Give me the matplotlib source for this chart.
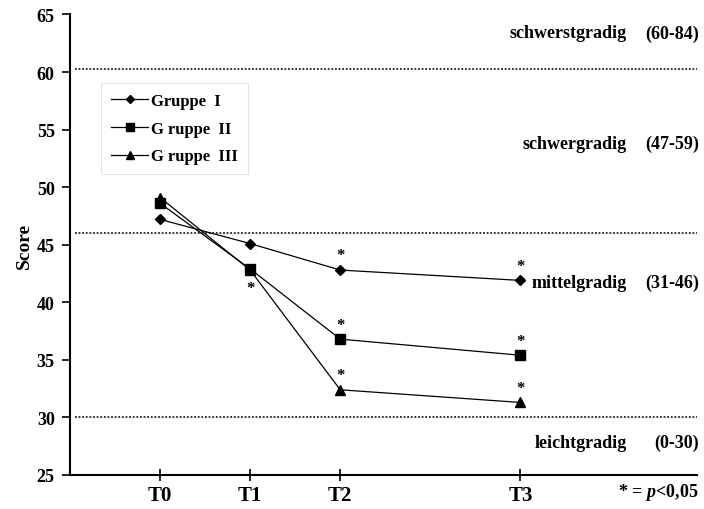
import numpy as np
import matplotlib.pyplot as plt

plt.rcParams['font.family'] = ['Liberation Serif', 'DejaVu Serif']
plt.rcParams['font.weight'] = 'bold'
plt.rcParams['axes.labelweight'] = 'bold'
plt.rcParams['mathtext.fontset'] = 'custom'
plt.rcParams['mathtext.rm'] = 'Liberation Serif:bold'
plt.rcParams['mathtext.it'] = 'Liberation Serif:italic:bold'

# Messzeitpunkte (T3 liegt doppelt so weit entfernt)
zeitpunkte = ['T0', 'T1', 'T2', 'T3']
x_pos = [0, 1, 2, 4]

gruppe_1 = [47.2, 45.1, 42.8, 41.9]
gruppe_2 = [48.6, 42.9, 36.8, 35.4]
gruppe_3 = [49.1, 42.8, 32.4, 31.3]

# Grenzen der Schweregrade
grenzen = [60.3, 46.0, 30.0]
stufen = ['schwerstgradig', 'schwergradig', 'mittelgradig', 'leichtgradig']
bereiche = ['(60-84)', '(47-59)', '(31-46)', '(0-30)']
stufen_y = [63.4, 53.8, 41.7, 27.8]

fig = plt.figure(figsize=(7.04, 5.10), dpi=100)
ax = fig.add_axes([0.0994, 0.0667, 0.8906, 0.903])

for g in grenzen:
    ax.axhline(g, xmin=0.008, xmax=1, color='#222222', linestyle=(0, (1, 1)), linewidth=1.3)

ax.plot(x_pos, gruppe_1, color='black', lw=0.9, marker='D', ms=5, label='Gruppe  I')
ax.plot(x_pos, gruppe_2, color='black', lw=0.9, marker='s', ms=7, label='G ruppe  II')
ax.plot(x_pos, gruppe_3, color='black', lw=0.9, marker='^', ms=7.5, label='G ruppe  III')

# Signifikanzsterne
for i in [2, 3]:
    for werte in [gruppe_1, gruppe_2, gruppe_3]:
        ax.annotate('*', (x_pos[i], werte[i]), xytext=(0, 10.5), textcoords='offset points',
                    ha='center', va='center', fontsize=12)
ax.annotate('*', (x_pos[1], gruppe_3[1]), xytext=(0, -13), textcoords='offset points',
            ha='center', va='center', fontsize=12)

for name, ber, y in zip(stufen, bereiche, stufen_y):
    ax.text(5.18, y, name, ha='right', va='center', fontsize=13)
    ax.text(5.98, y, ber, ha='right', va='center', fontsize=13, clip_on=False)

ax.text(5.98, 23.6, '$*$ = $\\mathit{p}$<0,05', ha='right', va='center', fontsize=13,
        clip_on=False)

ax.set_xlim(-1.0, 5.96)
ax.set_ylim(25, 65)
ax.set_yticks(np.arange(25, 66, 5))
ax.set_xticks(x_pos)
ax.set_xticklabels(zeitpunkte, fontsize=15)
ax.tick_params(axis='y', direction='out', length=6, width=1.2, labelsize=13, pad=5)
ax.tick_params(axis='x', direction='inout', length=9, width=1.2, pad=3)
ax.spines['top'].set_visible(False)
ax.spines['right'].set_visible(False)
ax.spines['left'].set_linewidth(1.5)
ax.spines['bottom'].set_linewidth(1.5)
ax.set_ylabel('Score', fontsize=14, labelpad=3)

leg = ax.legend(loc='upper left', bbox_to_anchor=(0.0367, 0.869), fontsize=12,
                handlelength=2.2, handletextpad=0.2, labelspacing=0.7,
                markerscale=0.75, fancybox=False, borderpad=0.6)
leg.get_frame().set_edgecolor('#dddddd')
leg.get_frame().set_linewidth(0.8)

fig.savefig('out.png', dpi=100)
